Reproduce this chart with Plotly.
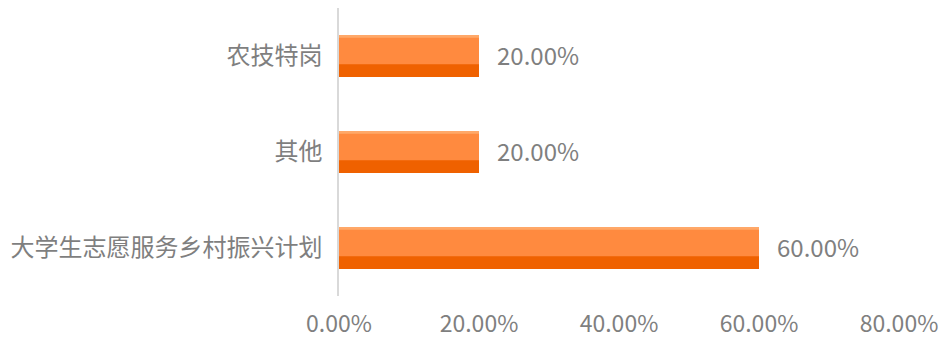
import plotly.graph_objects as go

categories = ["大学生志愿服务乡村振兴计划", "其他", "农技特岗"]
values = [0.60, 0.20, 0.20]
x_ticks = [0, 0.2, 0.4, 0.6, 0.8]

FONT = "Noto Sans CJK SC"
GREY = "#7F7F7F"
W = 0.44
DARK_H = 0.135

fig = go.Figure()
# dark lower strip (full bar)
fig.add_trace(go.Bar(y=categories, x=values, orientation="h", width=W, offset=-W/2,
                     marker=dict(color="#EF6100", line=dict(width=0)), hoverinfo="skip"))
# light upper part
fig.add_trace(go.Bar(y=categories, x=values, orientation="h", width=W - DARK_H, offset=-W/2 + DARK_H,
                     marker=dict(color="#FF8A3F", line=dict(width=0)), hoverinfo="skip"))
# thin highlight on top
fig.add_trace(go.Bar(y=categories, x=values, orientation="h", width=0.03, offset=W/2 - 0.03,
                     marker=dict(color="#FFA869", line=dict(width=0)), hoverinfo="skip"))

for c, v in zip(categories, values):
    fig.add_annotation(x=v, y=c, text=f"{v*100:.2f}%", xanchor="left", yanchor="middle",
                       xshift=16, yshift=2, showarrow=False,
                       font=dict(family=FONT, size=24, color=GREY))

fig.update_layout(
    width=939, height=332, barmode="overlay", showlegend=False,
    paper_bgcolor="white", plot_bgcolor="white",
    margin=dict(l=331, r=48, t=0, b=44, autoexpand=False),
    font=dict(family=FONT, size=24, color=GREY),
)
fig.update_xaxes(range=[0, 0.8], tickvals=x_ticks, tickformat=".2%", showgrid=False, zeroline=False,
                 showline=False, ticks="outside", ticklen=7, tickcolor="rgba(0,0,0,0)",
                 automargin=False, tickfont=dict(family=FONT, size=23, color=GREY))
fig.update_yaxes(categoryorder="array", categoryarray=categories, showgrid=False, zeroline=False,
                 showline=True, linecolor="#D9D9D9", linewidth=1.5, ticks="outside", ticklen=10,
                 automargin=False, tickcolor="rgba(0,0,0,0)", tickfont=dict(family=FONT, size=24, color=GREY))

fig.write_html("out.html")
